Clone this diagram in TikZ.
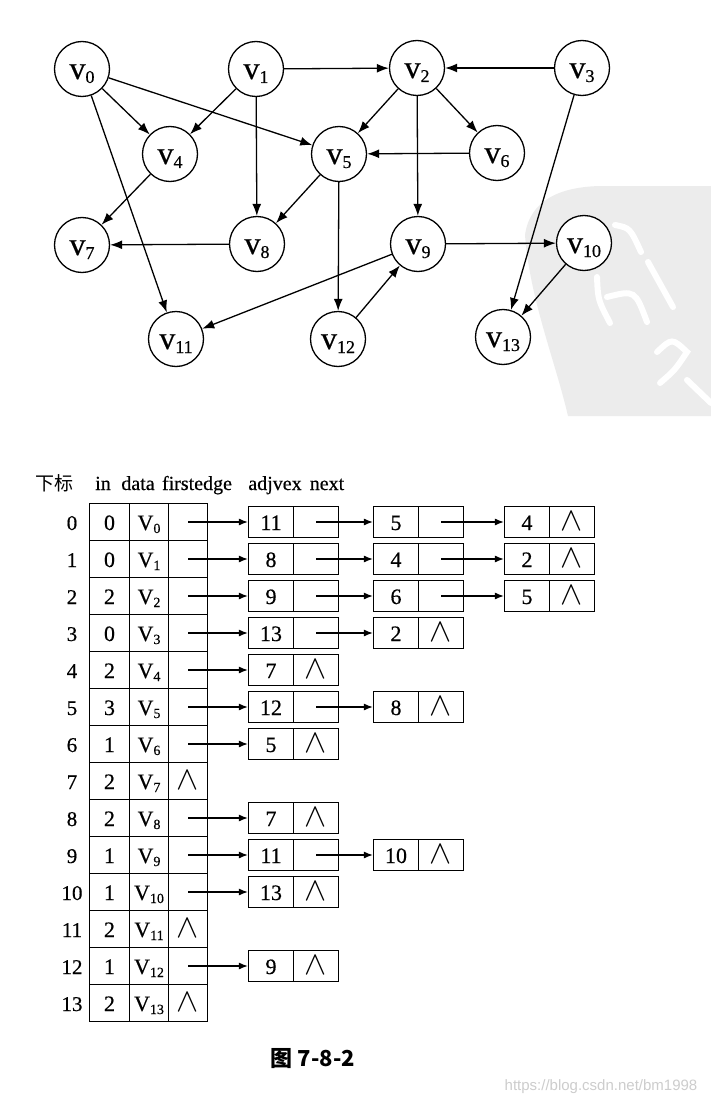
\documentclass[tikz,border=0pt]{standalone}
\usepackage{graphicx}
\usepackage{fontspec}
\setmainfont{Liberation Serif}[FakeBold=0.5]
\newfontfamily\cjk{Noto Sans CJK SC}
\newfontfamily\urlsans{Liberation Sans}
\usetikzlibrary{arrows.meta}
\definecolor{wmgray}{RGB}{236,236,236}
\definecolor{urlgray}{RGB}{205,205,205}
\newcommand{\gv}[1]{v\raisebox{-4pt}{\fontsize{18}{18}\selectfont #1}}
\newcommand{\tv}[1]{V\raisebox{-3pt}{\fontsize{14}{14}\selectfont #1}}
\newcommand{\nullsym}{\scalebox{1.6}{$\wedge$}}
\begin{document}
\begin{tikzpicture}[x=1pt,y=-1pt,
  vert/.style={circle,draw,fill=white,line width=1.3pt,minimum size=55pt,inner sep=0pt,font=\fontsize{32}{32}\selectfont,text height=20pt,text depth=0pt},
  garrow/.style={-{Latex[length=12pt,width=9pt]},line width=1.3pt},
  tcell/.style={draw,line width=1.2pt,minimum height=37pt,inner sep=0pt,font=\fontsize{22}{22}\selectfont,text height=16pt,text depth=0pt},
  bcell/.style={draw,line width=1.2pt,minimum height=31pt,minimum width=45pt,inner sep=0pt,font=\fontsize{22}{22}\selectfont,text height=16pt,text depth=0pt},
  tarrow/.style={-{Latex[length=9pt,width=7pt]},line width=1.2pt},
  lbl/.style={font=\fontsize{21}{21}\selectfont,inner sep=0pt,text height=16pt,text depth=0pt},
  hdr/.style={font=\fontsize{20}{20}\selectfont,anchor=base,inner sep=0pt},
  wmstroke/.style={white,line width=6pt,line cap=round}
]
\useasboundingbox (0,0) rectangle (711,1105);
\fill[white] (0,0) rectangle (711,1105);

% watermark
\fill[wmgray] (711,186) -- (600,186) .. controls (560,187) and (530,200) .. (525,235)
  .. controls (530,300) and (555,360) .. (568,416) -- (711,416) -- cycle;
\draw[wmstroke] (615,225) .. controls (630,228) .. (641,252);
\draw[wmstroke] (648,262) -- (673,307);
\draw[wmstroke] (597,277) .. controls (598,300) .. (610,323);
\draw[wmstroke] (607,297) .. controls (635,290) .. (647,322);
\draw[wmstroke] (657,352) .. controls (672,338) .. (687,352) .. controls (675,370) .. (660,383);
\draw[wmstroke] (687,380) -- (711,403);

% graph
\node[vert] (v0) at (82,69) {\gv{0}};
\node[vert] (v1) at (256,69) {\gv{1}};
\node[vert] (v2) at (417,68) {\gv{2}};
\node[vert] (v3) at (582,68) {\gv{3}};
\node[vert] (v4) at (170,154) {\gv{4}};
\node[vert] (v5) at (339,154) {\gv{5}};
\node[vert] (v6) at (497,153) {\gv{6}};
\node[vert] (v7) at (82,245) {\gv{7}};
\node[vert] (v8) at (257,244) {\gv{8}};
\node[vert] (v9) at (418,244) {\gv{9}};
\node[vert] (v10) at (584,243) {\gv{10}};
\node[vert] (v11) at (176,339) {\gv{11}};
\node[vert] (v12) at (338,339) {\gv{12}};
\node[vert] (v13) at (503,337) {\gv{13}};

\draw[garrow] (v0) -- (v4);
\draw[garrow] (v0) -- (v5);
\draw[garrow] (v0) -- (v11);
\draw[garrow] (v1) -- (v2);
\draw[garrow] (v1) -- (v4);
\draw[garrow] (v1) -- (v8);
\draw[garrow] (v2) -- (v5);
\draw[garrow] (v2) -- (v6);
\draw[garrow] (v2) -- (v9);
\draw[garrow] (v3) -- (v2);
\draw[garrow] (v3) -- (v13);
\draw[garrow] (v4) -- (v7);
\draw[garrow] (v5) -- (v8);
\draw[garrow] (v5) -- (v12);
\draw[garrow] (v6) -- (v5);
\draw[garrow] (v8) -- (v7);
\draw[garrow] (v9) -- (v11);
\draw[garrow] (v9) -- (v10);
\draw[garrow] (v10) -- (v13);
\draw[garrow] (v12) -- (v9);

% header
\node[hdr] (hxb) at (54,490) {\cjk\fontsize{19}{19}\selectfont 下标};
\node[hdr] (hin) at (103,490) {in};
\node[hdr] (hdata) at (138,490) {data};
\node[hdr] (hfirst) at (197,490) {firstedge};
\node[hdr] (hadj) at (275,490) {adjvex};
\node[hdr] (hnext) at (327,490) {next};

% vertex table
\foreach \rw/\ind/\fnull in {0/0/0,1/0/0,2/2/0,3/0/0,4/2/0,5/3/0,6/1/0,7/2/1,8/2/0,9/1/0,10/1/0,11/2/1,12/1/0,13/2/1}{
  \pgfmathsetmacro\yy{522+37*\rw}
  \node[lbl] (idx\rw) at (72,\yy) {\rw};
  \node[tcell,minimum width=40pt] (in\rw) at (109.5,\yy) {\ind};
  \node[tcell,minimum width=39pt] (d\rw) at (149,\yy) {\tv{\rw}};
  \node[tcell,minimum width=39pt] (f\rw) at (188,\yy) {\ifnum\fnull=1 \nullsym\fi};
}

% edge lists
\foreach \rw/\col/\val/\isend in {0/1/11/0,0/2/5/0,0/3/4/1,
  1/1/8/0,1/2/4/0,1/3/2/1,
  2/1/9/0,2/2/6/0,2/3/5/1,
  3/1/13/0,3/2/2/1,
  4/1/7/1,
  5/1/12/0,5/2/8/1,
  6/1/5/1,
  8/1/7/1,
  9/1/11/0,9/2/10/1,
  10/1/13/1,
  12/1/9/1}{
  \pgfmathsetmacro\yy{522+37*\rw}
  \pgfmathsetmacro\ax{\col==1 ? 271 : (\col==2 ? 396 : 527)}
  \pgfmathsetmacro\px{\ax+45}
  \pgfmathtruncatemacro\prv{\col-1}
  \node[bcell] (a\rw-\col) at (\ax,\yy) {\val};
  \node[bcell] (p\rw-\col) at (\px,\yy) {\ifnum\isend=1 \nullsym\fi};
  \ifnum\col=1
    \draw[tarrow] (f\rw.center) -- (a\rw-\col.west);
  \else
    \draw[tarrow] (p\rw-\prv.center) -- (a\rw-\col.west);
  \fi
}

% caption and url
\node[font=\cjk\bfseries\fontsize{22}{22}\selectfont,inner sep=0pt] (cap) at (313,1059) {图 7-8-2};
\node[font=\urlsans\fontsize{15}{15}\selectfont,text=urlgray,inner sep=0pt] (url) at (601,1087) {https://blog.csdn.net/bm1998};
\end{tikzpicture}
\end{document}
